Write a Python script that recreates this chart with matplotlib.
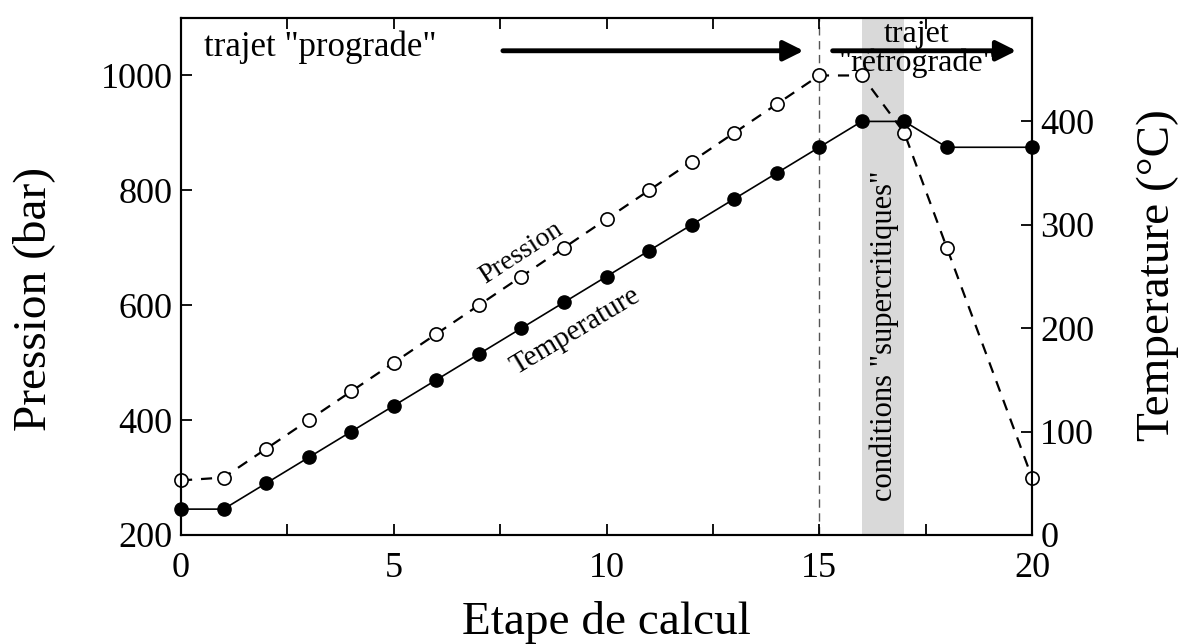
import matplotlib
matplotlib.use("Agg")
import matplotlib.pyplot as plt

plt.rcParams['font.family'] = ['Liberation Serif', 'DejaVu Serif']

# etapes de calcul (pas de point a l'etape 19)
etapes = [0, 1, 2, 3, 4, 5, 6, 7, 8, 9, 10, 11, 12, 13, 14, 15, 16, 17, 18, 20]
pression = [295, 300, 350, 400, 450, 500, 550, 600, 650, 700, 750, 800, 850,
            900, 950, 1000, 1000, 900, 700, 300]
temperature = [25, 25, 50, 75, 100, 125, 150, 175, 200, 225, 250, 275, 300,
               325, 350, 375, 400, 400, 375, 375]

fig = plt.figure(figsize=(11.81, 6.44), dpi=100)
ax1 = fig.add_axes([0.1533, 0.1693, 0.7205, 0.8027])
ax2 = ax1.twinx()

ax1.set_xlim(0, 20)
ax1.set_ylim(200, 1100)
ax2.set_ylim(0, 500)

# zone "supercritique" et limite du trajet prograde
ax1.axvspan(16, 17, color='#d9d9d9', lw=0, zorder=0)
ax1.axvline(15, color='#555555', ls=(0, (6, 4)), lw=1.0, zorder=1)

ax1.plot(etapes, pression, color='black', ls=(0, (5, 4)), lw=1.6,
         marker='o', ms=9.5, mfc='white', mec='black', mew=1.2,
         clip_on=False, zorder=3)
ax2.plot(etapes, temperature, color='black', ls='-', lw=1.2,
         marker='o', ms=9.5, mfc='black', mec='black',
         clip_on=False, zorder=3)

ax1.set_xticks([0, 2.5, 5, 7.5, 10, 12.5, 15, 17.5, 20])
ax1.set_xticklabels(['0', '', '5', '', '10', '', '15', '', '20'])
ax1.set_yticks([200, 400, 600, 800, 1000])
ax2.set_yticks([0, 100, 200, 300, 400])

ax1.tick_params(axis='x', direction='in', top=True, length=8, width=1.3,
                labelsize=26, pad=12)
ax1.tick_params(axis='y', direction='in', left=True, right=False, length=8,
                width=1.3, labelsize=26, pad=6)
ax2.tick_params(axis='y', direction='in', length=8, width=1.3, labelsize=26,
                pad=6)

for ax in (ax1, ax2):
    for s in ax.spines.values():
        s.set_linewidth(1.5)

ax1.set_xlabel('Etape de calcul', fontsize=34, labelpad=12)
ax1.set_ylabel('Pression (bar)', fontsize=34)
ax2.set_ylabel('Temperature (°C)', fontsize=34)
ax1.yaxis.set_label_coords(-0.148, 0.456)
ax2.yaxis.set_label_coords(1.123, 0.503)

# annotations
ax1.text(0.55, 1050, 'trajet "prograde"', fontsize=25, va='center', ha='left')
ax1.annotate('', xy=(14.7, 1043), xytext=(7.5, 1043),
             arrowprops=dict(arrowstyle='-|>', lw=3.5, color='black',
                             mutation_scale=30))
ax1.annotate('', xy=(19.7, 1043), xytext=(15.25, 1043),
             arrowprops=dict(arrowstyle='-|>', lw=3.5, color='black',
                             mutation_scale=30))
ax1.text(17.3, 1072, 'trajet', fontsize=23, ha='center', va='center', zorder=5)
ax1.text(17.3, 1021, '"rétrograde"', fontsize=23, ha='center', va='center',
         zorder=5)
ax1.text(16.53, 547, 'conditions "supercritiques"', fontsize=22,
         rotation=90, ha='center', va='center')
ax1.text(8.0, 691, 'Pression', fontsize=20, rotation=33,
         ha='center', va='center')
ax2.text(9.28, 197, 'Temperature', fontsize=21, rotation=31,
         ha='center', va='center')

fig.savefig('out.png', dpi=100)
